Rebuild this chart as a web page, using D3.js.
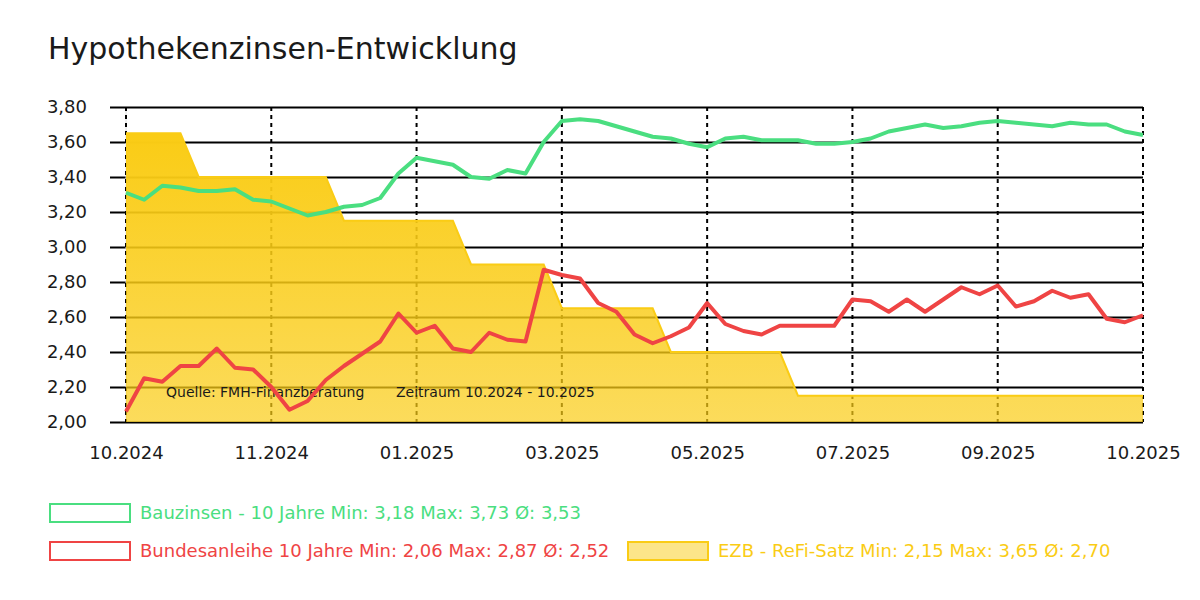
<!DOCTYPE html>
<html>
<head>
<meta charset="utf-8">
<script src="https://cdn.jsdelivr.net/npm/d3@7"></script>
<style>
  html, body { margin: 0; padding: 0; background: #fff; }
  svg { display: block; font-family: "DejaVu Sans", sans-serif; }
</style>
</head>
<body>
<svg id="chart" width="1200" height="600"></svg>
<script>
// ---- data ----
const bauzinsen = [3.31,3.27,3.35,3.34,3.32,3.32,3.33,3.27,3.26,3.22,3.18,3.20,3.23,3.24,3.28,
  3.42,3.51,3.49,3.47,3.40,3.39,3.44,3.42,3.60,3.72,3.73,3.72,3.69,3.66,3.63,3.62,3.59,3.57,
  3.62,3.63,3.61,3.61,3.61,3.59,3.59,3.60,3.62,3.66,3.68,3.70,3.68,3.69,3.71,3.72,3.71,3.70,
  3.69,3.71,3.70,3.70,3.66,3.64];
const bundesanleihe = [2.06,2.25,2.23,2.32,2.32,2.42,2.31,2.30,2.20,2.07,2.12,2.24,2.32,2.39,2.46,
  2.62,2.51,2.55,2.42,2.40,2.51,2.47,2.46,2.87,2.84,2.82,2.68,2.63,2.50,2.45,2.49,2.54,2.68,
  2.56,2.52,2.50,2.55,2.55,2.55,2.55,2.70,2.69,2.63,2.70,2.63,2.70,2.77,2.73,2.78,2.66,2.69,
  2.75,2.71,2.73,2.59,2.57,2.61];
const ezb = [3.65,3.65,3.65,3.65,3.40,3.40,3.40,3.40,3.40,3.40,3.40,3.40,3.15,3.15,3.15,3.15,
  3.15,3.15,3.15,2.90,2.90,2.90,2.90,2.90,2.65,2.65,2.65,2.65,2.65,2.65,2.40,2.40,2.40,2.40,
  2.40,2.40,2.40,2.15,2.15,2.15,2.15,2.15,2.15,2.15,2.15,2.15,2.15,2.15,2.15,2.15,2.15,2.15,
  2.15,2.15,2.15,2.15,2.15];
const xTickIndex = [0, 8, 16, 24, 32, 40, 48, 56];
const xTickLabels = ["10.2024","11.2024","01.2025","03.2025","05.2025","07.2025","09.2025","10.2025"];
const yTicks = [2.0,2.2,2.4,2.6,2.8,3.0,3.2,3.4,3.6,3.8];
const legendItems = [
  { name: "Bauzinsen - 10 Jahre", values: bauzinsen, color: "#4ade80", fill: "#ffffff" },
  { name: "Bundesanleihe 10 Jahre", values: bundesanleihe, color: "#ef4444", fill: "#ffffff" },
  { name: "EZB - ReFi-Satz", values: ezb, color: "#facc15", fill: "#fce589" }
];

// ---- layout ----
const svg = d3.select("#chart");
const x = d3.scaleLinear().domain([0, bauzinsen.length - 1]).range([126, 1143]);
const y = d3.scaleLinear().domain([2.0, 3.8]).range([422, 107]);
const fmt = v => d3.format(".2f")(v).replace(".", ",");

// title
svg.append("text").attr("x", 48).attr("y", 59)
  .attr("font-size", 30).attr("fill", "#1a1a1a").text("Hypothekenzinsen-Entwicklung");

// gradient for area
const defs = svg.append("defs");
const grad = defs.append("linearGradient").attr("id", "ezbGrad")
  .attr("x1", 0).attr("y1", 0).attr("x2", 0).attr("y2", 1);
grad.append("stop").attr("offset", "0%").attr("stop-color", "#facc15").attr("stop-opacity", 1);
grad.append("stop").attr("offset", "100%").attr("stop-color", "#facc15").attr("stop-opacity", 0.7);

// y axis with horizontal gridlines
const yAxis = d3.axisLeft(y).tickValues(yTicks).tickFormat(fmt)
  .tickSize(-(1143 - 110)).tickPadding(23);
const gy = svg.append("g").attr("transform", "translate(110,0)").call(yAxis);
gy.select(".domain").remove();
gy.selectAll(".tick line").attr("stroke", "#000").attr("stroke-width", 2)
  .attr("x1", 0).attr("x2", 1143 - 110);
gy.selectAll(".tick text").attr("font-size", 18).attr("fill", "#1a1a1a")
  .attr("font-family", "DejaVu Sans").attr("x", -23);

// faint y domain
svg.append("line").attr("x1", 126).attr("x2", 126).attr("y1", 107).attr("y2", 422)
  .attr("stroke", "#e0e0e0").attr("stroke-width", 1);

// vertical dotted gridlines
svg.append("g").selectAll("line").data(xTickIndex).join("line")
  .attr("x1", d => x(d)).attr("x2", d => x(d))
  .attr("y1", y(3.8)).attr("y2", y(2.0))
  .attr("stroke", "#000").attr("stroke-width", 2).attr("stroke-dasharray", "4,4");

// x axis labels
const xAxis = d3.axisBottom(x).tickValues(xTickIndex)
  .tickFormat((d, i) => xTickLabels[i]).tickSize(0).tickPadding(24);
const gx = svg.append("g").attr("transform", "translate(0,422)").call(xAxis);
gx.select(".domain").remove();
gx.selectAll(".tick text").attr("font-size", 18).attr("fill", "#1a1a1a")
  .attr("font-family", "DejaVu Sans");

// EZB area
const area = d3.area().x((d, i) => x(i)).y0(y(2.0)).y1(d => y(d));
svg.append("path").datum(ezb).attr("d", area)
  .attr("fill", "url(#ezbGrad)").attr("stroke", "none");
const topLine = d3.line().x((d, i) => x(i)).y(d => y(d));
svg.append("path").datum(ezb).attr("d", topLine)
  .attr("fill", "none").attr("stroke", "#facc15").attr("stroke-width", 2);

// annotations
svg.append("text").attr("x", 166).attr("y", 397).attr("font-size", 14)
  .attr("fill", "#1a1a1a").text("Quelle: FMH-Finanzberatung");
svg.append("text").attr("x", 396).attr("y", 397).attr("font-size", 14)
  .attr("fill", "#1a1a1a").text("Zeitraum 10.2024 - 10.2025");

// lines
const line = d3.line().x((d, i) => x(i)).y(d => y(d));
[legendItems[1], legendItems[0]].forEach(s => {
  svg.append("path").datum(s.values).attr("d", line)
    .attr("fill", "none").attr("stroke", s.color).attr("stroke-width", 4)
    .attr("stroke-linejoin", "round");
});

// legend
const legendPos = [ {x: 50, y: 504}, {x: 50, y: 542}, {x: 628, y: 542} ];
legendItems.forEach((s, i) => {
  const p = legendPos[i];
  const g = svg.append("g").attr("transform", `translate(${p.x},${p.y})`);
  g.append("rect").attr("width", 80).attr("height", 18)
    .attr("fill", s.fill).attr("stroke", s.color).attr("stroke-width", 2);
  const mn = d3.min(s.values), mx = d3.max(s.values), av = d3.mean(s.values);
  g.append("text").attr("x", 90).attr("y", 15).attr("font-size", 18).attr("fill", s.color)
    .text(`${s.name} Min: ${fmt(mn)} Max: ${fmt(mx)} Ø: ${fmt(av)}`);
});
</script>
</body>
</html>
